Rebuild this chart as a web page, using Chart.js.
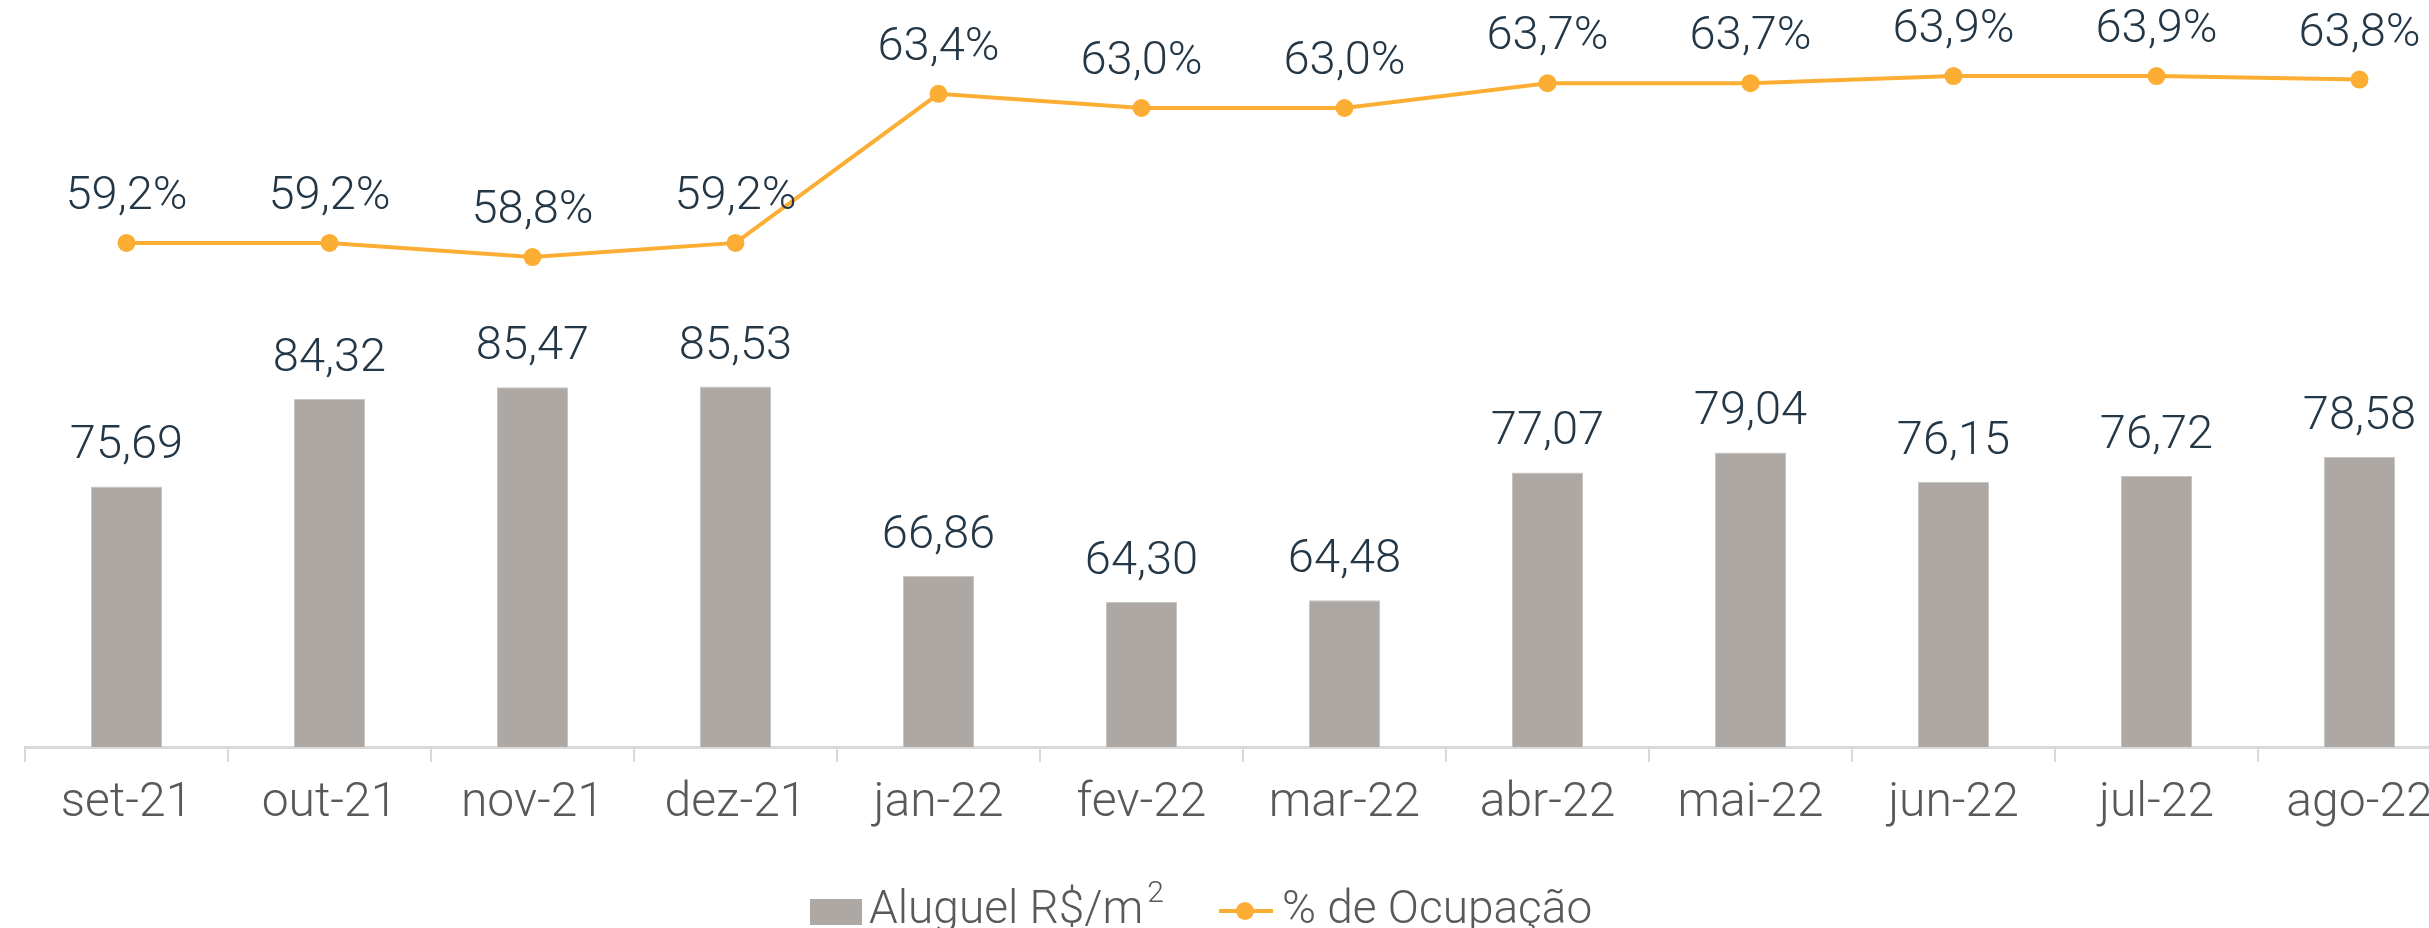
<!DOCTYPE html>
<html lang="pt-BR">
<head>
<meta charset="utf-8">
<title>Aluguel R$/m² e % de Ocupação</title>
<script src="https://cdn.jsdelivr.net/npm/chart.js@4.4.1/dist/chart.umd.min.js"></script>
<style>
  html, body { margin: 0; padding: 0; background: #fff; overflow: hidden; }
  #wrap { width: 2429px; height: 928px; overflow: hidden; }
  canvas { display: block; }
</style>
</head>
<body>
<div id="wrap"><canvas id="grafico" width="2470" height="928"></canvas></div>
<script>
// --- DADOS ---
const meses = ['set-21', 'out-21', 'nov-21', 'dez-21', 'jan-22', 'fev-22', 'mar-22', 'abr-22', 'mai-22', 'jun-22', 'jul-22', 'ago-22'];
const aluguel = [75.69, 84.32, 85.47, 85.53, 66.86, 64.30, 64.48, 77.07, 79.04, 76.15, 76.72, 78.58]; // R$/m2
const ocupacao = [59.2, 59.2, 58.8, 59.2, 63.4, 63.0, 63.0, 63.7, 63.7, 63.9, 63.9, 63.8]; // %

// --- CORES / FONTE ---
const corBarra = '#ada8a3';
const corLinha = '#fbae33';
const corRotulo = '#243746';
const corEixo = '#595959';
const fonte = 'Roboto';

// formata numero no padrao brasileiro (virgula)
function fmt(v, casas) {
    return v.toFixed(casas).replace('.', ',');
}

// Plugin: rotulos de dados acima das barras e dos pontos
const rotulosPlugin = {
    id: 'rotulos',
    afterDatasetsDraw(chart) {
        const ctx = chart.ctx;
        ctx.save();
        ctx.font = '300 47px ' + fonte;
        ctx.fillStyle = corRotulo;
        ctx.textAlign = 'center';
        ctx.textBaseline = 'alphabetic';
        chart.getDatasetMeta(0).data.forEach((bar, i) => {
            ctx.fillText(fmt(aluguel[i], 2), bar.x, bar.y - 28);
        });
        chart.getDatasetMeta(1).data.forEach((pt, i) => {
            ctx.fillText(fmt(ocupacao[i], 1) + '%', pt.x, pt.y - 34);
        });
        ctx.restore();
    }
};

// Plugin: legenda embaixo (desenhada a mao)
const legendaPlugin = {
    id: 'legendaManual',
    afterDraw(chart) {
        const ctx = chart.ctx;
        ctx.save();
        ctx.textBaseline = 'alphabetic';
        ctx.textAlign = 'left';

        // quadrado da barra
        ctx.fillStyle = corBarra;
        ctx.fillRect(810, 899, 52, 26);

        // texto "Aluguel R$/m" + expoente 2
        ctx.font = '300 46px ' + fonte;
        ctx.fillStyle = corEixo;
        const txt1 = 'Aluguel R$/m';
        ctx.fillText(txt1, 869, 923);
        const w1 = ctx.measureText(txt1).width;
        ctx.font = '300 30px ' + fonte;
        ctx.fillText('2', 869 + w1 + 4, 902);

        // linha com ponto
        ctx.strokeStyle = corLinha;
        ctx.lineWidth = 4;
        ctx.beginPath();
        ctx.moveTo(1219, 911);
        ctx.lineTo(1273, 911);
        ctx.stroke();
        ctx.fillStyle = corLinha;
        ctx.beginPath();
        ctx.arc(1245, 911, 9, 0, Math.PI * 2);
        ctx.fill();

        ctx.font = '300 46px ' + fonte;
        ctx.fillStyle = corEixo;
        ctx.fillText('% de Ocupação', 1282, 923);
        ctx.restore();
    }
};

const ctxGrafico = document.getElementById('grafico').getContext('2d');
const grafico = new Chart(ctxGrafico, {
    type: 'bar',
    data: {
        labels: meses,
        datasets: [{
            type: 'bar',
            label: 'Aluguel R$/m²',
            data: aluguel,
            backgroundColor: corBarra,
            borderColor: '#c9c5c1',
            borderWidth: 1,
            categoryPercentage: 1.0,
            barPercentage: 0.35,
            yAxisID: 'y',
            order: 1
        }, {
            type: 'line',
            label: '% de Ocupação',
            data: ocupacao,
            borderColor: corLinha,
            backgroundColor: corLinha,
            borderWidth: 4,
            pointRadius: 9,
            pointBorderWidth: 0,
            tension: 0,
            yAxisID: 'y1',
            order: 0
        }]
    },
    options: {
        responsive: false,
        animation: false,
        layout: { padding: { top: 37, left: 25, right: 3, bottom: 0 } },
        plugins: {
            legend: { display: false },
            tooltip: { enabled: false }
        },
        scales: {
            x: {
                offset: true,
                grid: {
                    offset: true,
                    drawOnChartArea: false,
                    tickLength: 15,
                    color: '#d9d9d9',
                    lineWidth: 2
                },
                border: { color: '#d9d9d9', width: 3 },
                ticks: {
                    color: corEixo,
                    font: { family: fonte, size: 48, weight: 300 },
                    padding: 13,
                    maxRotation: 0,
                    autoSkip: false
                },
                afterFit: (s) => { s.height = 181; }
            },
            y: { display: false, min: 50, max: 120 },
            y1: { display: false, min: 45, max: 65, position: 'right' }
        }
    },
    plugins: [rotulosPlugin, legendaPlugin]
});
</script>
</body>
</html>
